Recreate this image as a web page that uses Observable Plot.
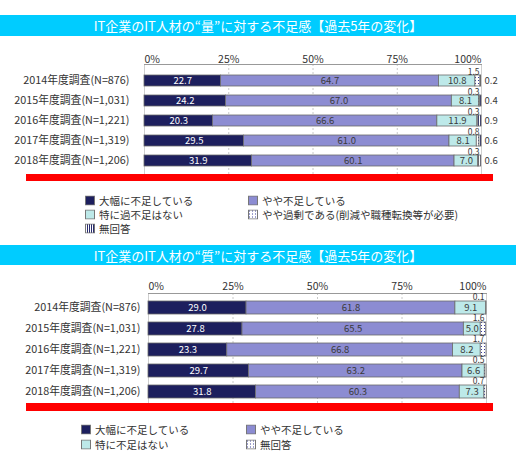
<!DOCTYPE html>
<html><head><meta charset="utf-8">
<script src="https://cdn.jsdelivr.net/npm/d3@7"></script>
<script src="https://cdn.jsdelivr.net/npm/@observablehq/plot@0.6"></script>
<style>
body{margin:0;background:#fff;font-family:"Noto Sans CJK JP",sans-serif;}
#root{position:relative;width:516px;height:472px;overflow:hidden;background:#fff}
.title{position:absolute;left:0;width:516px;background:#00ccff;color:#fff;text-align:center;font-size:13px;display:flex;align-items:center;justify-content:center}
.red{position:absolute;left:26px;width:467px;height:7px;background:#ff0000}
.leg{position:absolute;font-size:10.5px;color:#333;display:flex;align-items:center;white-space:nowrap;transform:translateY(-50%)}
.leg svg{margin-right:4px}
.chart{position:absolute;left:0}
</style></head><body>
<svg width="0" height="0" style="position:absolute">
<defs>
<pattern id="dots" width="3" height="3" patternUnits="userSpaceOnUse"><rect width="3" height="3" fill="#fff"/><rect x="1" y="1" width="1" height="1" fill="#3a3f9a"/></pattern>
<pattern id="stripes" width="2" height="3" patternUnits="userSpaceOnUse"><rect width="2" height="3" fill="#fff"/><rect x="0" y="0" width="1" height="3" fill="#2a2d70"/></pattern>
</defs></svg>
<div id="root"></div>
<script>
const categories = ["2014年度調査(N=876)","2015年度調査(N=1,031)","2016年度調査(N=1,221)","2017年度調査(N=1,319)","2018年度調査(N=1,206)"];
const tickValues = [0,25,50,75,100];
const tickLabels = ["0%","25%","50%","75%","100%"];
// 量 (quantity)
const qtyLarge  = [22.7,24.2,20.3,29.5,31.9];
const qtySome   = [64.7,67.0,66.6,61.0,60.1];
const qtyNone   = [10.8,8.1,11.9,8.1,7.0];
const qtyExcess = [1.5,0.3,0.3,0.8,0.3];
const qtyNA     = [0.2,0.4,0.9,0.6,0.6];
// 質 (quality)
const qualLarge = [29.0,27.8,23.3,29.7,31.8];
const qualSome  = [61.8,65.5,66.8,63.2,60.3];
const qualNone  = [9.1,5.0,8.2,6.6,7.3];
const qualNA    = [0.1,1.6,1.7,0.5,0.7];

const NAVY="#1d1f5e", PURPLE="#8c8cd2", CYAN="#bde9e9";
const FONT='"Noto Sans CJK JP", sans-serif';

function segs(list){
  const cum = categories.map(()=>0);
  return list.map(s=>{
    const rows = categories.map((c,i)=>{const r={y:c,x1:cum[i],x2:cum[i]+s.values[i],v:s.values[i]};cum[i]+=s.values[i];return r;});
    return {...s, rows};
  });
}

function build(cfg){
  const S = segs(cfg.series);
  const marks = [];
  marks.push(Plot.ruleX([25,50,75],{stroke:"#c8c8c8",strokeDasharray:"2,2"}));
  marks.push(Plot.ruleX([0,100],{stroke:"#cfcfcf"}));
  marks.push(Plot.frame({anchor:"top",stroke:"#999"}));
  marks.push(Plot.text([0],{x:i=>tickValues[i],text:i=>tickLabels[i],frameAnchor:"top",dy:cfg.tickDy,textAnchor:"start",fontSize:10.5,fill:"#333"}));
  marks.push(Plot.text([1,2,3],{x:i=>tickValues[i],text:i=>tickLabels[i],frameAnchor:"top",dy:cfg.tickDy,textAnchor:"middle",fontSize:10.5,fill:"#333"}));
  marks.push(Plot.text([4],{x:i=>tickValues[i],text:i=>tickLabels[i],frameAnchor:"top",dy:cfg.tickDy,textAnchor:"end",fontSize:10.5,fill:"#333"}));
  S.forEach(s=>{
    marks.push(Plot.barX(s.rows,{y:"y",x1:"x1",x2:"x2",fill:s.fill,stroke:"#6a6a6a",strokeWidth:0.8}));
  });
  marks.push(Plot.text(categories,{y:d=>d,frameAnchor:"left",dx:-cfg.catGap,textAnchor:"end",fontSize:10.8,fill:"#333"}));
  S.forEach((s,k)=>{
    if(s.label==="in") marks.push(Plot.text(s.rows,{y:"y",x:d=>(d.x1+d.x2)/2,text:d=>d.v.toFixed(1),fill:k===0?"#fff":"#3a3a3a",fontSize:9.5}));
    if(s.label==="above") marks.push(Plot.text(s.rows,{y:"y",x:()=>100,text:d=>d.v.toFixed(1),dx:-2,dy:cfg.aboveDy,textAnchor:"end",fill:"#3a3a3a",fontSize:8.5}));
    if(s.label==="right") marks.push(Plot.text(s.rows,{y:"y",x:()=>100,text:d=>d.v.toFixed(1),dx:3,textAnchor:"start",fill:"#3a3a3a",fontSize:9.5}));
  });
  return Plot.plot({
    width:516,height:cfg.height,
    marginLeft:cfg.left,marginRight:cfg.right,marginTop:cfg.top,marginBottom:0,
    style:{fontFamily:FONT,background:"transparent",overflow:"visible"},
    x:{domain:[0,100],axis:null},
    y:{domain:categories,range:cfg.yrange,padding:cfg.pad,axis:null},
    marks
  });
}

const root=document.getElementById("root");
function add(html){root.insertAdjacentHTML("beforeend",html);}
function sw(fill){return `<svg width="10" height="10"><rect x="0.5" y="0.5" width="9" height="9" fill="${fill}" stroke="#777"/></svg>`;}

add(`<div class="title" style="top:15px;height:21px">IT企業のIT人材の“量”に対する不足感【過去5年の変化】</div>`);
const c1 = build({
  series:[{values:qtyLarge,fill:NAVY,label:"in"},{values:qtySome,fill:PURPLE,label:"in"},{values:qtyNone,fill:CYAN,label:"in"},{values:qtyExcess,fill:"url(#dots)",label:"above"},{values:qtyNA,fill:"url(#stripes)",label:"right"}],
  height:134,left:144,right:35,top:24,yrange:[24,138],pad:0.43,tickDy:-9,catGap:15,aboveDy:-9
});
c1.classList.add("chart");c1.style.top="40px";root.appendChild(c1);
add(`<div class="red" style="top:174px"></div>`);
add(`<div class="leg" style="left:85px;top:200px">${sw(NAVY)}大幅に不足している</div>`);
add(`<div class="leg" style="left:248px;top:200px">${sw(PURPLE)}やや不足している</div>`);
add(`<div class="leg" style="left:85px;top:214px">${sw(CYAN)}特に過不足はない</div>`);
add(`<div class="leg" style="left:248px;top:214px">${sw("url(#dots)")}やや過剰である(削減や職種転換等が必要)</div>`);
add(`<div class="leg" style="left:85px;top:228px">${sw("url(#stripes)")}無回答</div>`);

add(`<div class="title" style="top:245px;height:20px">IT企業のIT人材の“質”に対する不足感【過去5年の変化】</div>`);
const c2 = build({
  series:[{values:qualLarge,fill:NAVY,label:"in"},{values:qualSome,fill:PURPLE,label:"in"},{values:qualNone,fill:CYAN,label:"in"},{values:qualNA,fill:"url(#dots)",label:"above"}],
  height:133,left:148,right:30,top:23,yrange:[23,136],pad:0.38,tickDy:-11,catGap:8,aboveDy:-10.5
});
c2.classList.add("chart");c2.style.top="270px";root.appendChild(c2);
add(`<div class="red" style="top:403px;height:8px"></div>`);
add(`<div class="leg" style="left:81px;top:429px">${sw(NAVY)}大幅に不足している</div>`);
add(`<div class="leg" style="left:246px;top:429px">${sw(PURPLE)}やや不足している</div>`);
add(`<div class="leg" style="left:81px;top:444px">${sw(CYAN)}特に不足はない</div>`);
add(`<div class="leg" style="left:246px;top:444px">${sw("url(#dots)")}無回答</div>`);
</script></body></html>
